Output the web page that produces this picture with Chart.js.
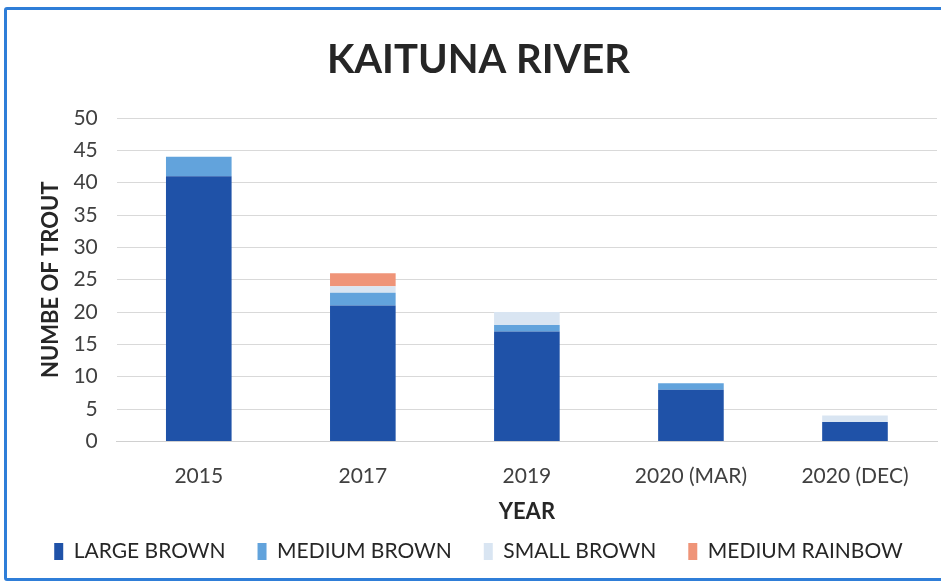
<!DOCTYPE html>
<html>
<head>
<meta charset="utf-8">
<script src="https://cdn.jsdelivr.net/npm/chart.js@4"></script>
<style>
  html, body { margin: 0; padding: 0; background: #fff; }
  #wrap { position: relative; width: 941px; height: 581px; }
  #frame {
    position: absolute; left: 4px; top: 7px; width: 945px; height: 568px;
    border: 3px solid #2f7ed8; border-radius: 3px; pointer-events: none;
  }
  canvas { position: absolute; left: 0; top: 0; }
</style>
</head>
<body>
<div id="wrap">
  <canvas id="chart" width="941" height="581"></canvas>
  <div id="frame"></div>
</div>
<script>
// chart data
var years = ["2015", "2017", "2019", "2020 (MAR)", "2020 (DEC)"];
var largeBrown = [41, 21, 17, 8, 3];
var mediumBrown = [3, 2, 1, 1, 0];
var smallBrown = [0, 1, 2, 0, 1];
var mediumRainbow = [0, 2, 0, 0, 0];
var yTicks = [0, 5, 10, 15, 20, 25, 30, 35, 40, 45, 50];

var fontFam = "Lato, 'Open Sans', sans-serif";

var ctx = document.getElementById('chart').getContext('2d');
var chart = new Chart(ctx, {
  type: 'bar',
  data: {
    labels: years,
    datasets: [
      { label: 'LARGE BROWN', data: largeBrown, backgroundColor: '#1f52a8' },
      { label: 'MEDIUM BROWN', data: mediumBrown, backgroundColor: '#62a3dc' },
      { label: 'SMALL BROWN', data: smallBrown, backgroundColor: '#d9e5f2' },
      { label: 'MEDIUM RAINBOW', data: mediumRainbow, backgroundColor: '#ef9478' }
    ]
  },
  options: {
    responsive: false,
    animation: false,
    layout: { padding: { left: 20, right: 4, top: 36, bottom: 9 } },
    datasets: { bar: { categoryPercentage: 1, barPercentage: 0.4 } },
    plugins: {
      title: {
        display: true,
        text: 'KAITUNA RIVER',
        color: '#262626',
        font: { family: fontFam, size: 40, weight: 'bold' },
        padding: { top: 0, bottom: 34 }
      },
      legend: {
        position: 'bottom',
        labels: {
          color: '#262626',
          font: { family: fontFam, size: 21 },
          boxWidth: 9,
          boxHeight: 17,
          padding: 32
        }
      },
      tooltip: { enabled: false }
    },
    scales: {
      x: {
        stacked: true,
        grid: { display: false },
        border: { color: '#d0d0d0' },
        ticks: { color: '#404040', font: { family: fontFam, size: 21 }, padding: 14 },
        title: {
          display: true, text: 'YEAR', color: '#262626',
          font: { family: fontFam, size: 22, weight: 'bold' },
          padding: { top: -4, bottom: -16 }
        }
      },
      y: {
        stacked: true,
        min: 0, max: 50,
        afterBuildTicks: function (axis) {
          axis.ticks = yTicks.map(function (v) { return { value: v }; });
        },
        grid: { color: '#d9d9d9', drawTicks: false },
        border: { display: false },
        ticks: { color: '#404040', font: { family: fontFam, size: 21 }, padding: 19, autoSkip: false },
        title: {
          display: true, text: 'NUMBE OF TROUT', color: '#262626',
          font: { family: fontFam, size: 22, weight: 'bold' },
          padding: { top: 18, bottom: -10 }
        }
      }
    }
  }
});
</script>
</body>
</html>
